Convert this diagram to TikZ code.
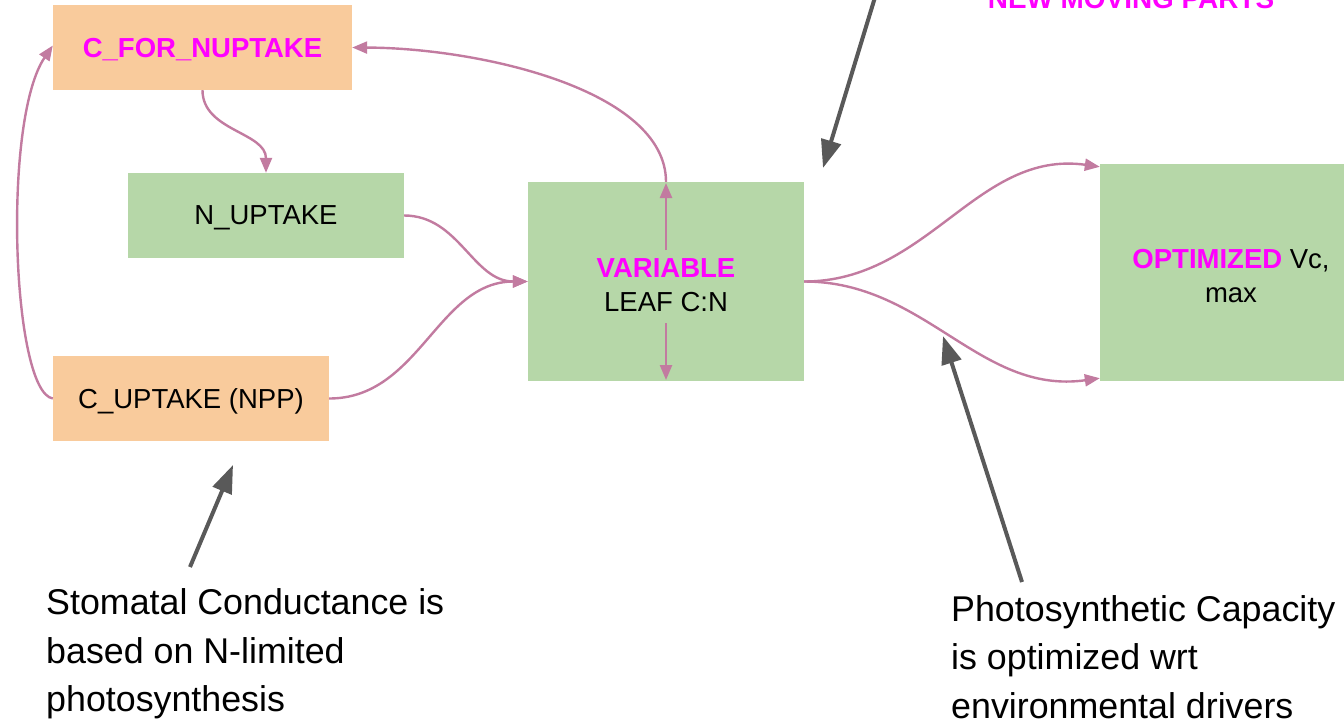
\documentclass[tikz,border=0pt]{standalone}
\usepackage{fontspec}
\setmainfont{Liberation Sans}
\usetikzlibrary{arrows.meta}
\definecolor{peach}{HTML}{F9CB9C}
\definecolor{leafgreen}{HTML}{B6D7A8}
\definecolor{hotmagenta}{HTML}{FF00FF}
\definecolor{flowpink}{HTML}{C27BA0}
\definecolor{pointergrey}{HTML}{595959}
\newcommand\hilite[1]{\textcolor{hotmagenta}{\bfseries #1}}
\begin{document}
\begin{tikzpicture}[x=1pt,y=-1pt,
  boxtext/.style={font=\fontsize{27.5}{34}\selectfont, align=center, inner sep=0pt, text depth=0pt},
  peachbox/.style={boxtext, fill=peach},
  greenbox/.style={boxtext, fill=leafgreen},
  caption/.style={font=\fontsize{35.8}{#1}\selectfont, align=left, inner sep=0pt, anchor=north west},
  flow/.style={draw=flowpink, line width=2.4pt, -{Triangle[length=15pt,width=12pt]}},
  pointer/.style={draw=pointergrey, line width=4pt, -{Triangle[length=28pt,width=20pt]}}]
\useasboundingbox (0,0) rectangle (1344,721);

% boxes
\node[peachbox, minimum width=299pt, minimum height=85pt] (cfor) at (202.5,47.5) {\hilite{C\_FOR\_NUPTAKE}};
\node[greenbox, minimum width=276pt, minimum height=85pt] (nup) at (266,215.5) {N\_UPTAKE};
\node[peachbox, minimum width=276pt, minimum height=85pt] (cup) at (191,398.5) {C\_UPTAKE (NPP)};
\node[greenbox, text height=59pt, minimum width=276pt, minimum height=199pt] (var) at (666,281.5) {\hilite{VARIABLE}\\LEAF C:N};
\node[greenbox, text height=59.5pt, minimum width=262pt, minimum height=217pt] (opt) at (1231,272.5) {\hilite{OPTIMIZED} Vc,\\max};

% annotations
\node[font=\fontsize{27.9}{32}\selectfont\bfseries, text=hotmagenta, inner sep=0pt, anchor=base] (moving) at (1131,8) {NEW MOVING PARTS};
\node[caption=48.5] (stomatal) at (46,588.5) {Stomatal Conductance is\\based on N-limited\\photosynthesis};
\node[caption=48.5] (photo) at (951,595) {Photosynthetic Capacity\\is optimized wrt\\environmental drivers};

% free ends of the connectors
\coordinate (varup) at (666,250);
\coordinate (vardown) at (666,323);
\coordinate (vartop) at (666,183);
\coordinate (varbot) at (666,380);
\coordinate (p1tail) at (876,-6);
\coordinate (p1tip) at (823,168);
\coordinate (p2tail) at (1022,582);
\coordinate (p2tip) at (943,336);
\coordinate (p3tail) at (190,567);
\coordinate (p3tip) at (233,465);

% flows
\draw[flow] (cfor.south) to[out=-90,in=90] (nup.north);
\draw[flow] (nup.east) to[out=0,in=180] (var.west);
\draw[flow] (cup.east) to[out=0,in=180] (var.west);
\draw[flow] (cup.west) .. controls (12,392) and (2,120) .. ([yshift=2pt]cfor.west);
\draw[flow] (varup) -- (vartop);
\draw[flow] (vardown) -- (varbot);
\draw[flow] (var.north) .. controls (666,90) and (480,48) .. (cfor.east);
\draw[flow] (var.east) to[out=0,in=172] ([yshift=-3pt]opt.north west);
\draw[flow] (var.east) to[out=0,in=188] ([yshift=3pt]opt.south west);

% pointers
\draw[pointer] (p1tail) -- (p1tip);
\draw[pointer] (p2tail) -- (p2tip);
\draw[pointer] (p3tail) -- (p3tip);
\end{tikzpicture}
\end{document}
